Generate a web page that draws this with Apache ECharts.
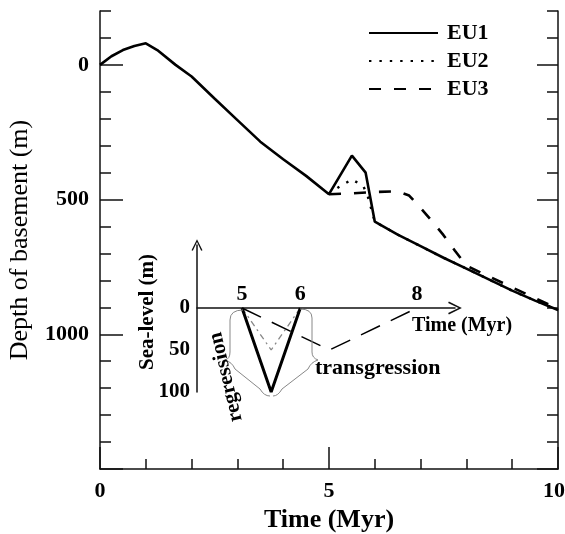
<!DOCTYPE html>
<html>
<head>
<meta charset="utf-8">
<script src="https://cdn.jsdelivr.net/npm/echarts@6/dist/echarts.min.js"></script>
<style>
html, body { margin: 0; padding: 0; background: #fff; }
#main { width: 565px; height: 534px; }
</style>
</head>
<body>
<div id="main"></div>
<script>
// depth of basement (m) against time (Myr)
var eu1Time = [0, 0.25, 0.5, 0.75, 1, 1.25, 1.65, 2, 2.5, 3, 3.5, 4, 4.5, 5, 5.5, 5.8, 6, 6.5, 7, 7.5, 8, 8.5, 9, 9.5, 10];
var eu1Depth = [0, -32, -55, -70, -80, -55, 0, 43, 125, 205, 285, 350, 412, 480, 337, 400, 582, 630, 673, 716, 756, 797, 838, 875, 910];
// EU2 and EU3 are the same as EU1 before 5 Myr
var eu2Time = [5, 5.2, 5.5, 5.75, 5.85, 6, 6.5, 7, 7.5, 8, 8.5, 9, 9.5, 10];
var eu2Depth = [480, 455, 425, 450, 490, 582, 630, 673, 716, 756, 797, 838, 875, 910];
var eu3Time = [5, 5.5, 6, 6.5, 6.75, 7, 7.25, 7.5, 7.75, 8, 8.5, 9, 9.5, 10];
var eu3Depth = [480, 477, 472, 469, 485, 531, 580, 632, 690, 745, 786, 826, 866, 905];

// inset: sea-level (m), negative = fall
var seaTime1 = [5, 5.5, 6];
var seaLevel1 = [0, -100, 0];
var seaTime2 = [5, 5.5, 6];
var seaLevel2 = [0, -50, 0];
var seaTime3 = [5, 6.5, 8];
var seaLevel3 = [0, -50, 0];

var xTickLabels = [0, 5, 10];
var yTickLabels = [0, 500, 1000];
var yMajorTicks = [0, 500, 1000, 1500];
var seaTimeLabels = [5, 6, 8];
var seaLevelLabels = [0, -50, -100];

var serif = "'Liberation Serif', 'DejaVu Serif', serif";
var ink = '#111';

function pairs(xs, ys) {
  return xs.map(function (x, i) { return [x, ys[i]]; });
}

// open chevron, pointing up
var chevron = 'path://M0,10 L5,0 L10,10 L8.8,10.6 L5,2.6 L1.2,10.6 Z';

// curly braces round the inset V (pixel outline, decoration only)
// each piece: [x1, y1, x2, y2, cpx, cpy] (no cp = straight)
var leftBrace = [
  [243, 310, 230, 320, 230, 310],
  [230, 320, 230, 352],
  [230, 352, 225, 360, 230, 359],
  [225, 360, 235, 369, 232, 362],
  [235, 369, 260, 389],
  [260, 389, 270, 396, 264, 396]
];
var rightBrace = [
  [300, 309, 312, 318, 312, 309],
  [312, 318, 312, 352],
  [312, 352, 318, 360, 312, 358],
  [318, 360, 308, 369, 311, 362],
  [308, 369, 282, 389],
  [282, 389, 273, 396, 278, 396]
];
function braceElements(pieces) {
  return pieces.map(function (p) {
    var st = { stroke: '#888', lineWidth: 1, fill: null };
    if (p.length > 4) {
      return { type: 'bezierCurve', z: 10, silent: true, style: st,
        shape: { x1: p[0], y1: p[1], x2: p[2], y2: p[3], cpx1: p[4], cpy1: p[5] } };
    }
    return { type: 'line', z: 10, silent: true, style: st,
      shape: { x1: p[0], y1: p[1], x2: p[2], y2: p[3] } };
  });
}

var chart = echarts.init(document.getElementById('main'));

var mainY = {
  type: 'value', gridIndex: 0, min: -200, max: 1500, inverse: true,
  splitLine: { show: false }
};

var texts = [
  {
    type: 'text', x: 315, y: 368, z: 10,
    style: { text: 'transgression', font: 'bold 22px ' + serif, fill: '#000', textAlign: 'left', textVerticalAlign: 'middle' }
  },
  {
    type: 'text', x: 226, y: 377, rotation: 1.8, z: 10,
    style: { text: 'regression', font: 'bold 21px ' + serif, fill: '#000', textAlign: 'center', textVerticalAlign: 'middle' }
  },
  {
    type: 'text', x: 412, y: 326, z: 10,
    style: { text: 'Time (Myr)', font: 'bold 20px ' + serif, fill: '#000', textAlign: 'left', textVerticalAlign: 'middle' }
  },
  {
    type: 'text', x: 148, y: 312, rotation: Math.PI / 2, z: 10,
    style: { text: 'Sea-level (m)', font: 'bold 21px ' + serif, fill: '#000', textAlign: 'center', textVerticalAlign: 'middle' }
  }
];

chart.setOption({
  animation: false,
  backgroundColor: '#fff',
  grid: [
    { left: 100, top: 11, right: 7, bottom: 65, outerBoundsMode: 'none', containLabel: false },
    { left: 197, top: 245, width: 258, height: 147, outerBoundsMode: 'none', containLabel: false }
  ],
  legend: {
    data: ['EU1', 'EU2', 'EU3'],
    orient: 'vertical',
    left: 368,
    top: 22,
    padding: 0,
    itemWidth: 69,
    itemHeight: 14,
    itemGap: 6,
    selectedMode: false,
    itemStyle: { opacity: 0 },
    textStyle: { fontFamily: serif, fontWeight: 'bold', fontSize: 22, color: '#000', padding: [0, 0, 0, 4] }
  },
  xAxis: [
    {
      type: 'value', gridIndex: 0, min: 0, max: 10, interval: 1,
      name: 'Time (Myr)', nameLocation: 'middle', nameGap: 36,
      nameTextStyle: { fontFamily: serif, fontWeight: 'bold', fontSize: 26, color: '#000' },
      axisLine: { onZero: false, lineStyle: { color: ink, width: 1.5 } },
      axisTick: { inside: true, length: 10, lineStyle: { color: ink, width: 1.5 } },
      axisLabel: {
        customValues: xTickLabels, margin: 11,
        formatter: function (v) { return v === 10 ? '{edge|10}' : String(v); },
        rich: { edge: { padding: [0, 8, 0, 0], fontFamily: serif, fontWeight: 'bold', fontSize: 22, color: '#000' } },
        fontFamily: serif, fontWeight: 'bold', fontSize: 22, color: '#000'
      },
      splitLine: { show: false }
    },
    {
      type: 'value', gridIndex: 0, min: 0, max: 10, position: 'bottom',
      axisLine: { show: false, onZero: false },
      axisTick: { inside: true, length: 22, customValues: xTickLabels, lineStyle: { color: ink, width: 1.5 } },
      axisLabel: { show: false },
      splitLine: { show: false }
    },
    {
      // inset time axis, drawn across at sea-level 0
      type: 'value', gridIndex: 1, min: 4.228, max: 8.653, position: 'top', offset: -63,
      axisLine: {
        onZero: false, symbol: ['none', chevron], symbolSize: [13, 16],
        lineStyle: { color: ink, width: 1.5 }
      },
      axisTick: { show: false },
      axisLabel: { customValues: seaTimeLabels, margin: 3, fontFamily: serif, fontWeight: 'bold', fontSize: 22, color: '#000' },
      splitLine: { show: false }
    }
  ],
  yAxis: [
    Object.assign({}, mainY, {
      position: 'left', interval: 100,
      name: 'Depth of basement (m)', nameLocation: 'middle', nameGap: 67,
      nameTextStyle: { fontFamily: serif, fontSize: 26, color: '#000' },
      axisLine: { onZero: false, lineStyle: { color: ink, width: 1.5 } },
      axisTick: { inside: true, length: 11, lineStyle: { color: ink, width: 1.5 } },
      axisLabel: {
        customValues: yTickLabels, margin: 11,
        formatter: function (v) { return String(v); },
        fontFamily: serif, fontWeight: 'bold', fontSize: 22, color: '#000'
      }
    }),
    Object.assign({}, mainY, {
      position: 'left',
      axisLine: { show: false, onZero: false },
      axisTick: { inside: true, length: 23, customValues: yMajorTicks, lineStyle: { color: ink, width: 1.5 } },
      axisLabel: { show: false }
    }),
    Object.assign({}, mainY, {
      position: 'right', interval: 100,
      axisLine: { onZero: false, lineStyle: { color: ink, width: 1.5 } },
      axisTick: { inside: true, length: 11, lineStyle: { color: ink, width: 1.5 } },
      axisLabel: { show: false }
    }),
    Object.assign({}, mainY, {
      position: 'right',
      axisLine: { show: false, onZero: false },
      axisTick: { inside: true, length: 21, customValues: yMajorTicks, lineStyle: { color: ink, width: 1.5 } },
      axisLabel: { show: false }
    }),
    {
      type: 'value', gridIndex: 1, min: -100, max: 75,
      axisLine: {
        onZero: false, symbol: ['none', chevron], symbolSize: [11, 16],
        lineStyle: { color: ink, width: 1.5 }
      },
      axisTick: { show: false },
      axisLabel: {
        customValues: seaLevelLabels, margin: 7,
        formatter: function (v) { return String(Math.abs(v)); },
        fontFamily: serif, fontWeight: 'bold', fontSize: 21, color: '#000'
      },
      splitLine: { show: false }
    }
  ],
  series: [
    {
      name: 'EU1', type: 'line', xAxisIndex: 0, yAxisIndex: 0, symbol: 'none', z: 3,
      data: pairs(eu1Time, eu1Depth),
      itemStyle: { color: '#000' },
      lineStyle: { color: '#000', width: 2.6 }
    },
    {
      name: 'EU2', type: 'line', xAxisIndex: 0, yAxisIndex: 0, symbol: 'none', z: 4,
      data: pairs(eu2Time, eu2Depth),
      itemStyle: { color: '#000' },
      lineStyle: { color: '#000', width: 2.4, type: [2.4, 8] }
    },
    {
      name: 'EU3', type: 'line', xAxisIndex: 0, yAxisIndex: 0, symbol: 'none', z: 4,
      data: pairs(eu3Time, eu3Depth),
      itemStyle: { color: '#000' },
      lineStyle: { color: '#000', width: 2.6, type: [12, 13] }
    },
    {
      name: 'EU1 sea-level', type: 'line', xAxisIndex: 2, yAxisIndex: 4, symbol: 'none', z: 5,
      data: pairs(seaTime1, seaLevel1),
      lineStyle: { color: '#000', width: 3 }
    },
    {
      name: 'EU2 sea-level', type: 'line', xAxisIndex: 2, yAxisIndex: 4, symbol: 'none', z: 4,
      data: pairs(seaTime2, seaLevel2),
      lineStyle: { color: '#888', width: 1.3, type: [6, 4, 2, 4] }
    },
    {
      name: 'EU3 sea-level', type: 'line', xAxisIndex: 2, yAxisIndex: 4, symbol: 'none', z: 4,
      data: pairs(seaTime3, seaLevel3),
      lineStyle: { color: '#000', width: 1.5, type: [21, 12] }
    }
  ],
  graphic: braceElements(leftBrace).concat(braceElements(rightBrace), texts)
});
</script>
</body>
</html>
